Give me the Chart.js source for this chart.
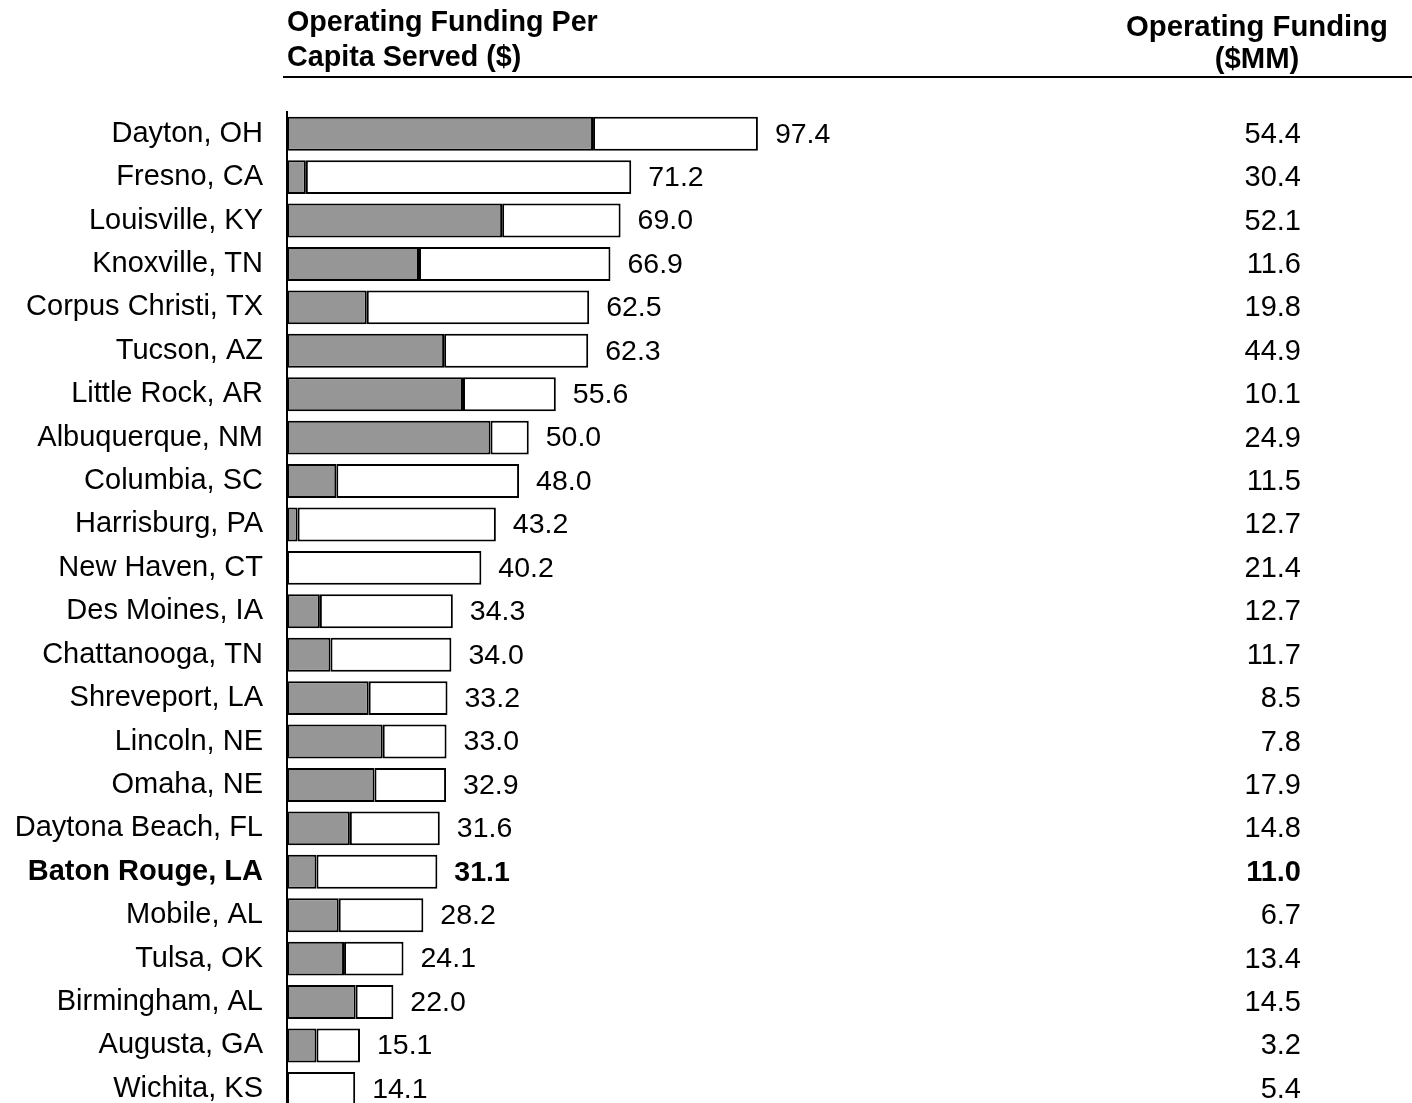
<!DOCTYPE html>
<html>
<head>
<meta charset="utf-8">
<script src="https://cdn.jsdelivr.net/npm/chart.js@4"></script>
<style>
html,body{margin:0;padding:0;background:#fff;overflow:hidden;}
canvas{display:block;}
</style>
</head>
<body>
<canvas id="c" width="1412" height="1152"></canvas>
<script>
const cities = ["Dayton, OH","Fresno, CA","Louisville, KY","Knoxville, TN","Corpus Christi, TX","Tucson, AZ","Little Rock, AR","Albuquerque, NM","Columbia, SC","Harrisburg, PA","New Haven, CT","Des Moines, IA","Chattanooga, TN","Shreveport, LA","Lincoln, NE","Omaha, NE","Daytona Beach, FL","Baton Rouge, LA","Mobile, AL","Tulsa, OK","Birmingham, AL","Augusta, GA","Wichita, KS"];
const perCapitaTotal = [97.4,71.2,69.0,66.9,62.5,62.3,55.6,50.0,48.0,43.2,40.2,34.3,34.0,33.2,33.0,32.9,31.6,31.1,28.2,24.1,22.0,15.1,14.1];
const greyPortion = [63.3,3.9,44.5,27.3,16.5,32.5,36.4,42.1,10.2,2.2,0,6.8,9.0,16.9,19.8,18.1,13.0,6.1,10.7,11.8,14.2,6.1,0];
const fundingMM = ["54.4","30.4","52.1","11.6","19.8","44.9","10.1","24.9","11.5","12.7","21.4","12.7","11.7","8.5","7.8","17.9","14.8","11.0","6.7","13.4","14.5","3.2","5.4"];
const highlightCity = "Baton Rouge, LA";
const headerLeft = ["Operating Funding Per","Capita Served ($)"];
const headerRight = ["Operating Funding","($MM)"];

const whitePortion = perCapitaTotal.map((t,i)=>Math.max(0, +(t - greyPortion[i]).toFixed(1)));
const FONT = '"Liberation Sans", Arial, Helvetica, sans-serif';
const hiIdx = cities.indexOf(highlightCity);

const overlay = {
  id:'overlay',
  afterDraw(chart){
    const ctx = chart.ctx, x = chart.scales.x, y = chart.scales.y;
    ctx.save();
    ctx.fillStyle = '#000';
    ctx.textBaseline = 'middle';
    perCapitaTotal.forEach((v,i)=>{
      const yy = y.getPixelForValue(i);
      ctx.font = (i===hiIdx?'bold ':'') + '28.5px ' + FONT;
      ctx.textAlign = 'left';
      ctx.fillText(v.toFixed(1), x.getPixelForValue(v) + 17, yy + 1);
      ctx.font = (i===hiIdx?'bold ':'') + '29px ' + FONT;
      ctx.textAlign = 'right';
      ctx.fillText(fundingMM[i], 1301, yy + 1);
    });
    // headers
    ctx.font = 'bold 28.7px ' + FONT;
    ctx.textAlign = 'left';
    ctx.fillText(headerLeft[0], 287, 23);
    ctx.fillText(headerLeft[1], 287, 58);
    ctx.font = 'bold 29.3px ' + FONT;
    ctx.textAlign = 'center';
    ctx.fillText(headerRight[0], 1257, 28);
    ctx.fillText(headerRight[1], 1257, 60);
    ctx.strokeStyle = '#000';
    ctx.lineWidth = 2;
    ctx.beginPath();
    ctx.moveTo(283, 77);
    ctx.lineTo(1412, 77);
    ctx.stroke();
    ctx.restore();
  }
};

new Chart(document.getElementById('c'), {
  type:'bar',
  data:{
    labels: cities,
    datasets:[
      {data: greyPortion, backgroundColor:'#969696', borderColor:'#000', borderWidth:2, borderSkipped:false},
      {data: whitePortion, backgroundColor:'#ffffff', borderColor:'#000', borderWidth:2, borderSkipped:false}
    ]
  },
  options:{
    indexAxis:'y',
    responsive:false,
    animation:false,
    devicePixelRatio:1,
    layout:{padding:{top:112, right:13, bottom:0, left:0}},
    plugins:{legend:{display:false}, tooltip:{enabled:false}},
    datasets:{bar:{categoryPercentage:1, barPercentage:0.78}},
    scales:{
      x:{display:false, stacked:true, min:0, max:230},
      y:{
        stacked:true,
        afterFit(s){ s.width = 287; },
        grid:{display:false, drawTicks:false},
        border:{display:true, color:'#000', width:2},
        ticks:{
          padding:24,
          color:'#000',
          font:(c)=>({family:FONT, size:29, weight:(c.index===hiIdx?'bold':'normal')})
        }
      }
    }
  },
  plugins:[overlay]
});
</script>
</body>
</html>
